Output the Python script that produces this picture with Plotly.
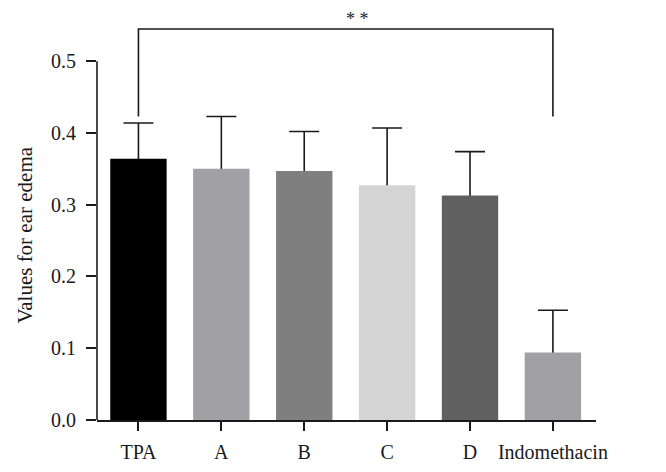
import plotly.graph_objects as go

categories = ["TPA", "A", "B", "C", "D", "Indomethacin"]
means = [0.364, 0.350, 0.347, 0.327, 0.313, 0.094]
errors = [0.050, 0.073, 0.055, 0.080, 0.061, 0.059]
colors = ["#000000", "#a1a0a5", "#7f7f7f", "#d4d4d4", "#606060", "#a1a0a5"]
y_ticks = [0.0, 0.1, 0.2, 0.3, 0.4, 0.5]
y_tick_labels = ["0.0", "0.1", "0.2", "0.3", "0.4", "0.5"]
y_title = "Values for ear edema"
bracket_base = 0.423
bracket_top = 0.545
sig_label = "* *"

FONT = "Liberation Serif"
INK = "#1a1a1a"
xs = list(range(len(categories)))

fig = go.Figure()
# error bars (symmetric) on an invisible bar; lower half hidden by the real bars drawn on top
fig.add_trace(go.Bar(
    x=xs, y=means, width=0.68,
    marker=dict(color="rgba(0,0,0,0)", line=dict(width=0)),
    error_y=dict(type="data", array=errors, symmetric=True,
                 color=INK, thickness=1.6, width=15),
    showlegend=False, hoverinfo="skip",
))
fig.add_trace(go.Bar(
    x=xs, y=means, width=0.68,
    marker=dict(color=colors, line=dict(width=0)),
    showlegend=False,
))

# y axis line drawn only from 0 to 0.5
fig.add_shape(type="line", xref="paper", yref="y", x0=0, x1=0,
              y0=0, y1=y_ticks[-1], line=dict(color=INK, width=1.6))

# significance bracket
fig.add_shape(type="path", xref="x", yref="y",
              path=f"M 0,{bracket_base} L 0,{bracket_top} L 5,{bracket_top} L 5,{bracket_base}",
              line=dict(color=INK, width=1.6))
fig.add_annotation(x=2.64, y=bracket_top, text=sig_label, showarrow=False,
                   yanchor="bottom", yshift=-2, font=dict(family=FONT, size=18, color="#222"))

# y axis title centred on the 0–0.5 range
fig.add_annotation(xref="paper", x=0, y=(y_ticks[0] + y_ticks[-1]) / 2, yref="y",
                   text=y_title, textangle=-90, showarrow=False,
                   xanchor="center", yanchor="middle", xshift=-72, yshift=5,
                   font=dict(family=FONT, size=21, color=INK))

fig.update_layout(
    width=666, height=472,
    margin=dict(l=89, r=78, t=3, b=60),
    plot_bgcolor="white", paper_bgcolor="white",
    font=dict(family=FONT, size=20, color=INK),
    barmode="overlay",
)
fig.update_xaxes(
    range=[-0.5, 5.52], tickmode="array", tickvals=xs,
    ticktext=categories, showline=True, linecolor=INK, linewidth=1.6,
    ticks="outside", ticklen=9, tickwidth=1.6, tickcolor=INK,
    showgrid=False, zeroline=False, tickfont=dict(family=FONT, size=20),
    ticklabelstandoff=4,
)
fig.update_yaxes(
    range=[0, 0.57], tickmode="array", tickvals=y_ticks, ticktext=y_tick_labels,
    showline=False, ticks="outside", ticklen=10, tickwidth=1.6, tickcolor=INK,
    showgrid=False, zeroline=False, tickfont=dict(family=FONT, size=20),
    ticklabelstandoff=6,
)

fig.write_html("out.html")
